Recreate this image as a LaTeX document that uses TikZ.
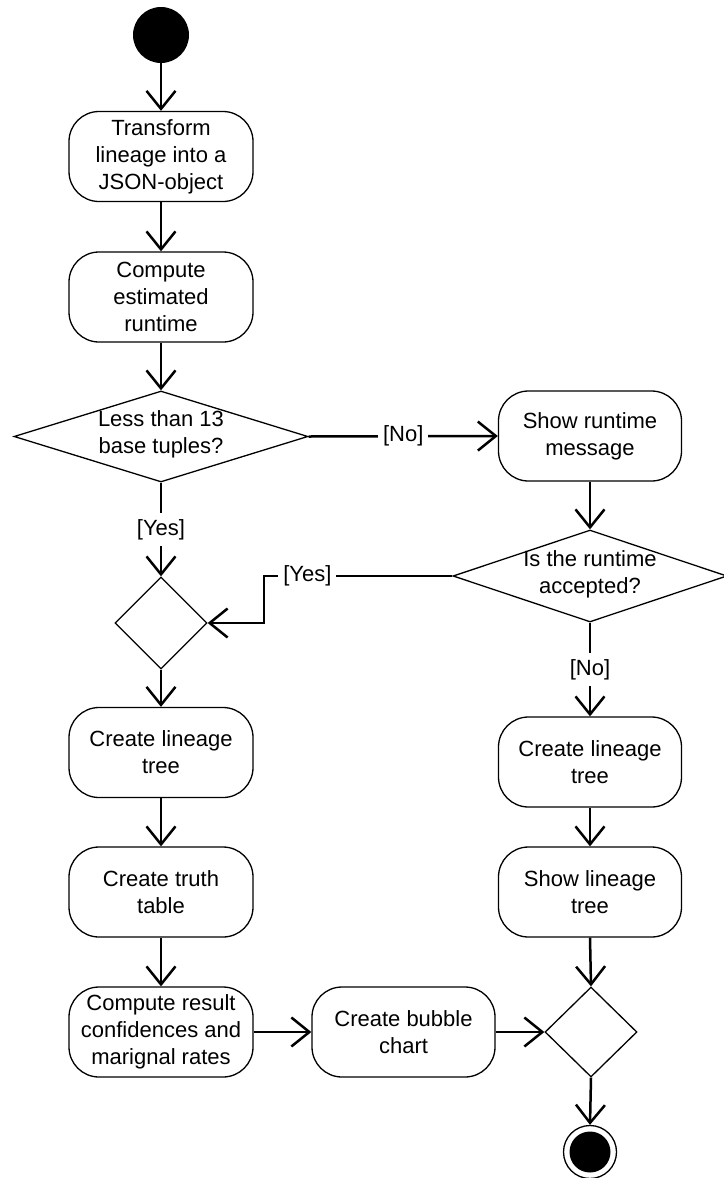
\documentclass[tikz,border=0pt]{standalone}
\usepackage{fontspec}
\setmainfont{Liberation Sans}
\usetikzlibrary{arrows.meta,shapes.geometric}
\begin{document}
\begin{tikzpicture}[x=1pt,y=-1pt,
  txt/.style={font=\fontsize{22}{27}\selectfont, align=center, text=black},
  act/.style={txt, draw, line width=1.3pt, rounded corners=30pt, minimum width=184pt, minimum height=90pt, inner sep=0pt},
  dec/.style={draw, diamond, line width=1.3pt, inner sep=0pt},
  flow/.style={line width=2.5pt, -{Straight Barb[length=18pt,width=29pt,line join=miter]}},
  lbl/.style={txt, fill=white, inner xsep=5pt, inner ysep=6pt}
]
\useasboundingbox (0,0) rectangle (723,1178);

% start
\node[circle, fill=black, minimum size=56pt, inner sep=0pt] (start) at (161,35) {};

% left column
\node[act] (b1) at (161,156.5) {Transform\\lineage into a\\JSON-object};
\node[act] (b2) at (161,297) {Compute\\estimated\\runtime};
\node[dec, minimum width=294pt, minimum height=91pt] (d1) at (161,436.5) {};
\node[txt] (d1t) at (161,434) {Less than 13\\base tuples?};
\node[dec, minimum width=92pt, minimum height=92pt] (d3) at (161,623) {};
\node[act] (b3) at (161,752.5) {Create lineage\\tree};
\node[act] (b4) at (161,892) {Create truth\\table};
\node[act] (b5) at (161,1032) {Compute result\\confidences and\\marignal rates};
\node[act, minimum width=183pt] (b6) at (403.5,1032) {Create bubble\\chart};

% right column
\node[act, minimum width=183pt] (r1) at (590,436) {Show runtime\\message};
\node[dec, minimum width=274pt, minimum height=92pt] (d2) at (590,576) {};
\node[txt] (d2t) at (590,574) {Is the runtime\\accepted?};
\node[act, minimum width=183pt] (r2) at (590,762) {Create lineage\\tree};
\node[act, minimum width=183pt] (r3) at (590,892) {Show lineage\\tree};
\node[dec, minimum width=92pt, minimum height=90pt] (d4) at (591,1032) {};

% end
\node[circle, draw, line width=1.3pt, minimum size=53pt, inner sep=0pt] (end) at (590,1152) {};
\fill[black] (end.center) circle[radius=20.5pt];

\coordinate (elx) at (264,600);

% connectors
\draw[flow] (start) -- (b1);
\draw[flow] (b1) -- (b2);
\draw[flow] (b2) -- (d1.north);
\draw[flow] (d1.east) -- node[lbl]{[No]} (r1.west);
\draw[flow] (d1.south) -- node[lbl]{[Yes]} (d3.north);
\draw[flow] (r1) -- (d2.north);
\draw[flow] (d2.west) -- node[lbl, pos=0.77]{[Yes]} (d2.west -| elx) |- (d3.east);
\draw[flow] (d2.south) -- node[lbl]{[No]} (r2.north);
\draw[flow] (d3.south) -- (b3.north);
\draw[flow] (b3) -- (b4);
\draw[flow] (b4) -- (b5);
\draw[flow] (b5) -- (b6);
\draw[flow] (b6.east) -- (d4.west);
\draw[flow] (r2) -- (r3);
\draw[flow] (r3.south) -- (d4.north);
\draw[flow] (d4.south) -- (end.north);
\end{tikzpicture}
\end{document}
